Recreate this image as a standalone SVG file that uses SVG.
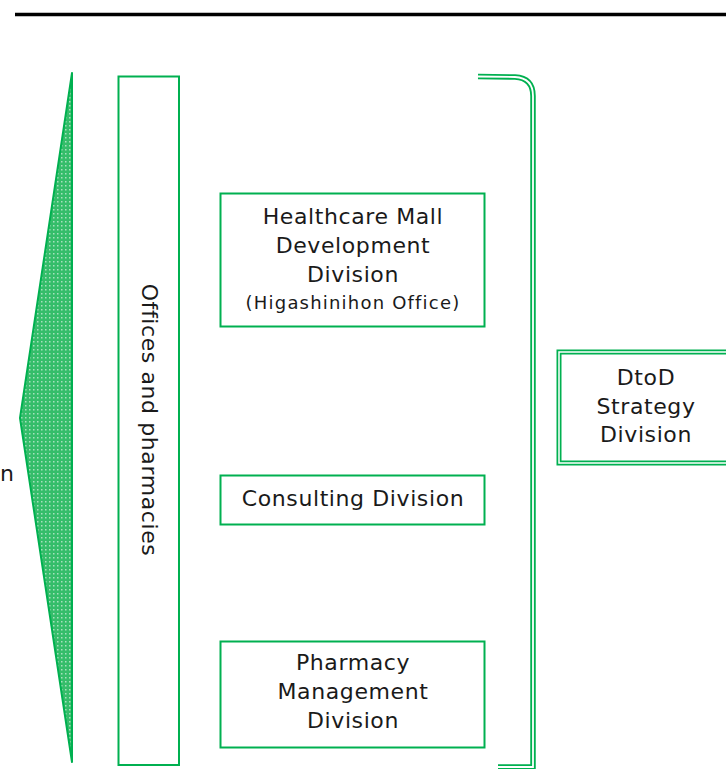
<svg xmlns="http://www.w3.org/2000/svg" width="726" height="769" viewBox="0 0 726 769">
<defs>
<pattern id="dots" width="4" height="4" patternUnits="userSpaceOnUse">
<rect width="4" height="4" fill="#35bd6a"/>
<rect x="1" y="1" width="1.5" height="1.5" fill="#a6e2bd"/>
</pattern>
<style>
.box{fill:#fff;stroke:#00b050;stroke-width:2}
.t{font-family:"DejaVu Sans","Liberation Sans",sans-serif;font-size:22px;letter-spacing:0.6px;fill:#1a1a1a;text-anchor:middle}
.s{font-size:18px;letter-spacing:1.2px}
</style>
</defs>
<rect width="726" height="769" fill="#fff"/>
<line x1="15" y1="14.5" x2="726" y2="14.5" stroke="#000" stroke-width="3.5"/>
<g id="triangle">
<polygon points="72,73 72,762 20,418" fill="url(#dots)" stroke="#00b050" stroke-width="2" stroke-linejoin="round"/>
</g>
<g id="label-left"><text class="t" x="0" y="481" style="text-anchor:start">n</text></g>
<g id="offices">
<rect class="box" x="118.5" y="76.5" width="60.5" height="688.5"/>
<text class="t" transform="translate(142,420) rotate(90)">Offices and pharmacies</text>
</g>
<g id="bracket">
<path d="M478,76.5 L515,77 Q533,78 533,96 L533,767 L498,767" fill="none" stroke="#00b050" stroke-width="5.5"/>
<path d="M478,76.5 L515,77 Q533,78 533,96 L533,767 L498,767" fill="none" stroke="#fff" stroke-width="1.8"/>
</g>
<g id="healthcare">
<rect class="box" x="220.5" y="193.5" width="264" height="133"/>
<text class="t" x="353" y="224">Healthcare Mall</text>
<text class="t" x="353" y="253">Development</text>
<text class="t" x="353" y="282">Division</text>
<text class="t s" x="353" y="309">(Higashinihon Office)</text>
</g>
<g id="consulting">
<rect class="box" x="220.5" y="475.5" width="264" height="49"/>
<text class="t" x="353" y="506">Consulting Division</text>
</g>
<g id="pharmacy">
<rect class="box" x="220.5" y="641.5" width="264" height="106"/>
<text class="t" x="353" y="670">Pharmacy</text>
<text class="t" x="353" y="699">Management</text>
<text class="t" x="353" y="728">Division</text>
</g>
<g id="dtod">
<rect x="559" y="352" width="180" height="111" fill="#fff" stroke="#00b050" stroke-width="5"/>
<rect x="559" y="352" width="180" height="111" fill="none" stroke="#fff" stroke-width="1.5"/>
<text class="t" x="646" y="385">DtoD</text>
<text class="t" x="646" y="414">Strategy</text>
<text class="t" x="646" y="442">Division</text>
</g>
<g id="connectors"></g>
</svg>
